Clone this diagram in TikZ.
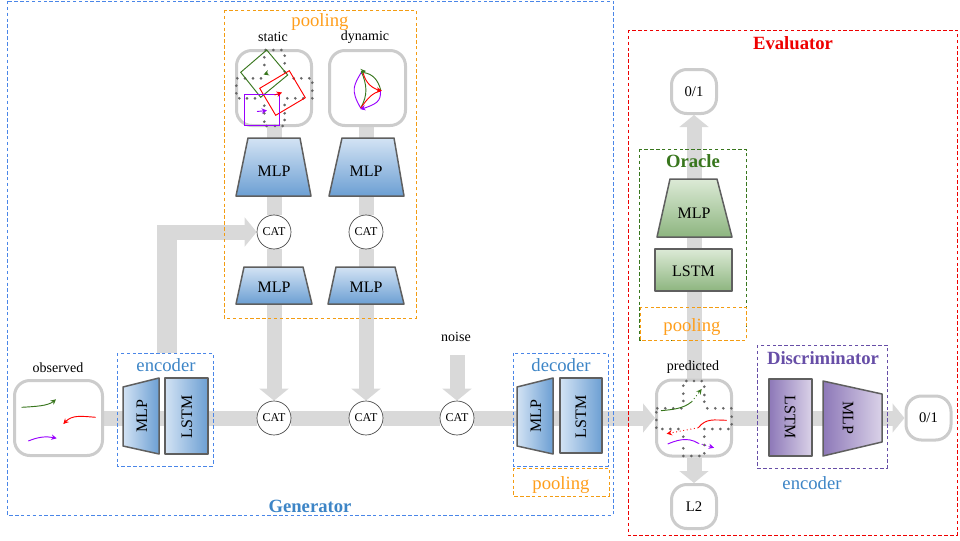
\documentclass[tikz,border=0pt]{standalone}
\usepackage{fontspec}
\setmainfont{Liberation Serif}
\usetikzlibrary{arrows.meta,backgrounds}
\definecolor{flowc}{HTML}{D9D9D9}
\definecolor{boxc}{HTML}{CCCCCC}
\definecolor{edgec}{HTML}{5F5F5F}
\definecolor{frameblue}{HTML}{4A86E8}
\definecolor{textblue}{HTML}{3D85C6}
\definecolor{frameorange}{HTML}{F39C12}
\definecolor{textorange}{HTML}{FF9E1B}
\definecolor{darkgreen}{HTML}{38761D}
\definecolor{darkpurple}{HTML}{674EA7}
\definecolor{trajpurple}{HTML}{9900FF}
\definecolor{trajgreen}{HTML}{38761D}
\definecolor{evalred}{HTML}{EE0000}
\def\px{0.75pt}
\tikzset{
  flow/.style={draw=flowc,line width=15*\px},
  flowa/.style={flow,-{Triangle[length=9pt,width=21.5pt]}},
  frame/.style={dashed,dash pattern=on 2.6pt off 1.8pt,line width=0.75pt},
  roundbox/.style={draw=boxc,fill=white,line width=3*\px,rounded corners=11.5pt,inner sep=0pt,align=center,font=\fontsize{11}{13}\selectfont},
  catnode/.style={circle,draw=edgec!70!black,fill=white,line width=0.5pt,minimum size=34*\px,inner sep=0pt,font=\fontsize{9}{11}\selectfont},
  lab/.style={inner sep=0pt,font=\fontsize{12}{14}\selectfont},
  small/.style={inner sep=0pt,font=\fontsize{10.5}{12}\selectfont},
  big/.style={inner sep=0pt,font=\fontsize{14}{16}\selectfont},
  bigb/.style={inner sep=0pt,font=\fontsize{14}{16}\selectfont\bfseries},
  unit/.style={draw=edgec,line width=1.5*\px,line join=round},
  bluev/.style={unit,top color=blue1,bottom color=blue2},
  blueh/.style={unit,left color=blue1,right color=blue2},
  greenv/.style={unit,top color=green1,bottom color=green2},
  purpleh/.style={unit,left color=purple2,right color=purple1},
  dotc/.style={fill=black!60},
  traj/.style={line width=0.7pt},
  tip/.style={-{Stealth[length=4pt,width=4pt]}},
}
\definecolor{blue1}{HTML}{D3E3F4}
\definecolor{blue2}{HTML}{6C9FD3}
\definecolor{green1}{HTML}{DCEAD6}
\definecolor{green2}{HTML}{8DB57F}
\definecolor{purple1}{HTML}{DAD2E8}
\definecolor{purple2}{HTML}{8D78B8}
\begin{document}
\begin{tikzpicture}[x=0.75pt,y=-0.75pt]
\useasboundingbox (0,0) rectangle (960,540);
% rounded boxes
\node[roundbox,minimum width=88*\px,minimum height=75*\px] (observed) at (58.5,418) {};
\node[roundbox,minimum width=75*\px,minimum height=75*\px] (staticbox) at (274,88) {};
\node[roundbox,minimum width=76*\px,minimum height=75*\px] (dynamicbox) at (367.5,88) {};
\node[roundbox,minimum width=75*\px,minimum height=76*\px] (predicted) at (694,418) {};
\node[roundbox,minimum width=45*\px,minimum height=44*\px] (oraclebox) at (694,91.5) {0/1};
\node[roundbox,minimum width=45*\px,minimum height=44*\px] (discbox) at (928.5,418) {0/1};
\node[roundbox,minimum width=45*\px,minimum height=44*\px] (ltwo) at (694,506.5) {L2};
% CAT nodes
\node[catnode] (cattop1) at (274,232) {CAT};
\node[catnode] (cattop2) at (366,232) {CAT};
\node[catnode] (catbot1) at (274,418) {CAT};
\node[catnode] (catbot2) at (366,418) {CAT};
\node[catnode] (catbot3) at (457,418) {CAT};
% blue units
\shade[bluev] (248,138)--(300,138)--(311,196)--(236,196)--cycle;
\node[lab] (mlpa) at (274,171) {MLP};
\shade[bluev] (342,138)--(394,138)--(404,196)--(329,196)--cycle;
\node[lab] (mlpb) at (366,171) {MLP};
\shade[bluev] (244,267)--(303,267)--(312,304)--(236,304)--cycle;
\node[lab] (mlpc) at (274,287) {MLP};
\shade[bluev] (336,267)--(395,267)--(404,304)--(328,304)--cycle;
\node[lab] (mlpd) at (366,287) {MLP};
\shade[blueh] (123,387)--(159,378)--(159,454)--(123,446)--cycle;
\node[lab,rotate=90] (mlpenc) at (142,416) {MLP};
\shade[blueh] (165,378) rectangle (208,454);
\node[lab,rotate=90] (lstmenc) at (187,417) {LSTM};
\shade[blueh] (517,387)--(553,378)--(553,454)--(517,446)--cycle;
\node[lab,rotate=90] (mlpdec) at (536,416) {MLP};
\shade[blueh] (560,378) rectangle (602,453);
\node[lab,rotate=90] (lstmdec) at (581,417) {LSTM};
% green units
\shade[greenv] (670,179)--(717,179)--(732,237)--(657,237)--cycle;
\node[lab] (mlporacle) at (694,213) {MLP};
\shade[greenv] (655,249) rectangle (732,291);
\node[lab] (lstmoracle) at (693.5,271) {LSTM};
% purple units
\shade[purpleh] (769,379) rectangle (812,456);
\node[lab,rotate=-90] (lstmdisc) at (790,417) {LSTM};
\shade[purpleh] (823,381)--(882,394)--(882,442)--(823,456)--cycle;
\node[lab,rotate=-90] (mlpdisc) at (848,418) {MLP};
% frames
\draw[frame,frameblue] (7,1) rectangle (613,515);
\draw[frame,frameorange] (224,10) rectangle (416,318);
\draw[frame,evalred] (628,30) rectangle (957,535);
\draw[frame,frameblue] (117,353) rectangle (213,466);
\draw[frame,frameblue] (513,353) rectangle (608,466);
\draw[frame,frameorange] (513,468) rectangle (609,496);
\draw[frame,darkgreen] (639.5,149) rectangle (746,340);
\draw[frame,frameorange] (640,307) rectangle (746,340);
\draw[frame,darkpurple] (757,345) rectangle (887,468);
% labels
\node[big,text=textorange] (poolinga) at (320,22) {pooling};
\node[big,text=textorange] (poolingb) at (561,485) {pooling};
\node[big,text=textorange] (poolingc) at (692,327) {pooling};
\node[big,text=textblue] (encodera) at (166,365) {encoder};
\node[big,text=textblue] (decoder) at (561,365) {decoder};
\node[big,text=textblue] (encoderb) at (812,483) {encoder};
\node[bigb,text=textblue] (generator) at (310,506) {Generator};
\node[bigb,text=evalred] (evaluator) at (793,43) {Evaluator};
\node[bigb,text=darkgreen] (oracle) at (693,161) {Oracle};
\node[bigb,text=darkpurple] (discriminator) at (823,358) {Discriminator};
\node[small] (lobs) at (58,368) {observed};
\node[small] (lstatic) at (273,37) {static};
\node[small] (ldynamic) at (365,37) {dynamic};
\node[small] (lpred) at (693,367) {predicted};
\node[small] (lnoise) at (456,337) {noise};
% observed trajectories
\draw[traj,tip,trajgreen] (21.7,407.3) .. controls (35,406.5) and (48,406) .. (56,399.3);
\draw[traj,tip,red] (95.7,417.3) .. controls (80,416) and (72,415) .. (63.3,424);
\draw[traj,tip,trajpurple] (28.3,441) .. controls (38,437) and (46,436) .. (56.7,438.3);
% static pooling
\foreach \p in {(265.7,50),(273.3,50),(281.3,50),(264.3,57.3),(264.3,65),(284.7,55.7),(284.7,63.3),(284.7,71.7),
 (237.3,78.3),(245,78.3),(253,78.3),(261,78.3),(293.7,78.3),(301.3,78.3),(309.3,78.3),
 (236.3,85.7),(236.3,93.3),(312.3,82.7),(312.3,90.7),(312.3,98.3),
 (239.3,98.3),(247,98.3),(255,98.3),(287.3,98.3),(295.3,98.3),(303.3,98.3),
 (264.3,105.7),(264.3,113.3),(264.3,121.7),(284.7,105),(284.7,113.3),(284.7,120),
 (266.7,126),(275,126),(282.7,126)}
  \fill[dotc] \p circle[radius=1.1pt];
\draw[line width=0.7pt,darkgreen] (266.7,50)--(287.7,75)--(260.7,97.3)--(240.7,72.3)--cycle;
\draw[line width=0.7pt,red] (289.3,70.7)--(305.3,97.7)--(275.7,115.3)--(259.7,88.3)--cycle;
\draw[line width=1pt,trajpurple] (244.3,94.3) rectangle (279.3,125.3);
\draw[traj,tip,darkgreen] (268,73) -- (263.5,74.5);
\draw[traj,tip,red] (274.5,95) -- (282,92.5);
\draw[traj,tip,trajpurple] (257,111.5) -- (267,110.5);
% dynamic pooling
\draw[traj,trajpurple] (361.5,72) .. controls (354,85) and (350,90) .. (360.7,108);
\draw[traj,trajgreen] (361.5,72) .. controls (367,85) and (368,95) .. (360.7,108);
\draw[traj,trajgreen] (363.5,72.5) .. controls (373,74) and (378,80) .. (380.7,90);
\draw[traj,red] (363,72.5) .. controls (366,84) and (372,88) .. (380.7,91);
\draw[traj,red] (360.7,108) .. controls (368,98) and (372,93) .. (380.7,91);
\draw[traj,trajpurple] (380.5,91) .. controls (381,102) and (376,104) .. (362,109);
\draw[tip,trajgreen,traj] (361,71.5) -- (366,71);
\draw[tip,red,traj] (377,90) -- (382,90.8);
\draw[tip,trajpurple,traj] (364,108) -- (360,109);
% predicted
\foreach \p in {(686.3,381),(694,381),(701.7,381),(683.3,385.7),(683.3,393.7),(683.3,401),(704.3,386.7),(704.3,395),(704.3,401.7),
 (657.3,408.3),(665.3,408.3),(673.3,408.3),(681.3,408.3),(707.3,408.3),(715.3,408.3),(723.3,408.3),(731.3,408.3),
 (656.3,412.3),(656.3,420),(656.3,427.7),(731.7,416.7),(731.7,424.3),
 (662.3,429),(670.3,429),(678.3,429),(704.3,429),(712.3,429),(720.3,429),(728.3,429),
 (683.3,436.7),(683.3,448.3),(683.3,456),(704.3,436.7),(704.3,445),(704.3,453.3),(691.3,456),(699.3,456)}
  \fill[dotc] \p circle[radius=1.1pt];
\draw[traj,trajgreen] (661,410.7) .. controls (672,409.5) and (683,409) .. (691.7,401.7);
\draw[traj,trajgreen,dotted,tip] (691.7,401.7) -- (701.7,389);
\draw[traj,red] (726.7,420.3) .. controls (714,420) and (706,418) .. (698.3,427.7);
\draw[traj,red,dotted,tip] (698.3,427.7) -- (666.7,433.7);
\draw[traj,trajpurple] (667.7,444) .. controls (675,441) and (687,436) .. (698.3,443.3);
\draw[traj,trajpurple,dotted,tip] (698.3,443.3) -- (714,447.7);
% connectors
\begin{scope}[on background layer]
\coordinate (encout) at (167,353);
\coordinate (encturn) at (167,224.5);
\coordinate (elbow) at (157,232);
\coordinate (noisein) at (457,355);
\coordinate (mlpencport) at (142,418);
\coordinate (lstmencport) at (187,418);
\coordinate (mlpdecport) at (536,418);
\coordinate (lstmdecport) at (581,418);
\coordinate (lstmdiscport) at (790,418);
\coordinate (dynport) at (366,120);
\draw[draw=flowc,line width=20*\px] (encout) -- (encturn);
\draw[flowa] (elbow) -- (cattop1.west);
\draw[flow] (observed.east) -- (mlpencport);
\draw[flow] (mlpencport) -- (lstmencport);
\draw[flow] (lstmencport) -- (catbot1.west);
\draw[flow] (catbot1.east) -- (catbot2.west);
\draw[flow] (catbot2.east) -- (catbot3.west);
\draw[flow] (catbot3.east) -- (mlpdecport);
\draw[flow] (mlpdecport) -- (lstmdecport);
\draw[flowa] (lstmdecport) -- (predicted.west);
\draw[flow] (predicted.east) -- (lstmdiscport);
\draw[flow] (lstmdiscport) -- (mlpdisc.center);
\draw[flowa] (mlpdisc.center) -- (discbox.west);
\draw[flowa] (mlpc.center) -- (catbot1.north);
\draw[flowa] (mlpd.center) -- (catbot2.north);
\draw[flowa] (noisein) -- (catbot3.north);
\draw[flow] (mlpc.center) -- (cattop1.south);
\draw[flow] (mlpd.center) -- (cattop2.south);
\draw[flow] (cattop1.north) -- (staticbox.south);
\draw[flow] (cattop2.north) -- (dynport);
\draw[flowa] (predicted.north) -- (oraclebox.south);
\draw[flowa] (predicted.south) -- (ltwo.north);
\end{scope}
\end{tikzpicture}
\end{document}
